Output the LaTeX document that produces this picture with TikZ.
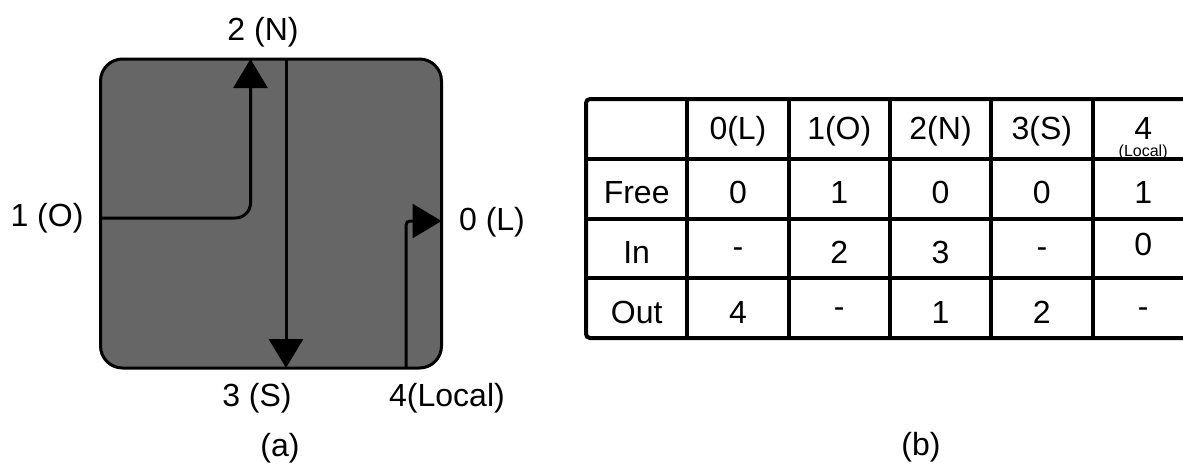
\documentclass[tikz,border=0pt]{standalone}
\usepackage{fontspec}
\setmainfont{Liberation Sans}
\usetikzlibrary{arrows.meta}

\def\colw{101.3}
\def\rowh{59.75}
\def\tabx{586}
\def\taby{99}

\tikzset{
  lbl/.style={inner sep=0pt, font=\fontsize{32}{36}\selectfont},
  cell/.style={inner sep=0pt, font=\fontsize{32}{36}\selectfont},
  flow/.style={line width=3pt, -{Triangle[width=34pt,length=29pt]}},
  grid/.style={line width=4pt}
}

\begin{document}
\begin{tikzpicture}[x=1pt,y=-1pt]
        \useasboundingbox (0,0) rectangle (1183,464);
        \clip (0,0) rectangle (1183,464);
        % router box
        \node[draw, line width=3pt, fill=black!60, rounded corners=22pt,
              minimum width=341pt, minimum height=309pt, inner sep=0pt]
              (router) at (271,213.5) {};
        % port ends on the box
        \coordinate (oin) at (100.5,218);
        \coordinate (nout) at (250.5,59);
        \coordinate (nin) at (286,59);
        \coordinate (sout) at (286,368);
        \coordinate (lin) at (406,368);
        \coordinate (lout) at (441.5,221);
        % paths through the router
        \draw[flow, rounded corners=15pt] (oin) -| (nout);
        \draw[flow] (nin) -- (sout);
        \draw[flow, rounded corners=4pt] (lin) |- (lout);
        % port labels
        \node[lbl] (pn) at (263,32) {2 (N)};
        \node[lbl] (ps) at (257,398) {3 (S)};
        \node[lbl] (plocal) at (447,398) {4(Local)};
        \node[lbl] (pl) at (492,222) {0 (L)};
        \node[lbl] (po) at (47,218) {1 (O)};
        \node[lbl] (capa) at (280,448) {(a)};
        \node[lbl] (capb) at (921,447) {(b)};
        % table grid
        \draw[grid, rounded corners=4pt] (\tabx,\taby) rectangle ({\tabx+6*\colw},{\taby+4*\rowh});
        \foreach \c in {1,...,5}
            \draw[grid] ({\tabx+\c*\colw},\taby) -- ({\tabx+\c*\colw},{\taby+4*\rowh});
        \foreach \r in {1,2,3}
            \draw[grid] (\tabx,{\taby+\r*\rowh}) -- ({\tabx+6*\colw},{\taby+\r*\rowh});
        % header row
        \foreach \lab [count=\c] in {0(L),1(O),2(N),3(S)}
            \node[cell] (h\c) at ({\tabx+(\c+0.5)*\colw},{\taby+0.5*\rowh+2}) {\lab};
        \node[cell, text depth=0pt, anchor=south] (h5) at ({\tabx+5.5*\colw},140) {4};
        \node[inner sep=0pt, text height=11pt, anchor=north, font=\fontsize{16}{18}\selectfont] (h5b) at ({\tabx+5.5*\colw},145) {(Local)};
        % body rows
        \foreach \rlab/\vals [count=\r] in {Free/{0,1,0,0,1},In/{-,2,3,-,0},Out/{4,-,1,2,-}} {
            \node[cell] (r\r) at ({\tabx+0.5*\colw},{\taby+(\r+0.5)*\rowh+4}) {\rlab};
            \foreach \v [count=\c] in \vals
                \node[cell, yshift={(\r==2)*(\c==5)*8}] (v\r\c) at ({\tabx+(\c+0.5)*\colw},{\taby+(\r+0.5)*\rowh+4}) {\v};
        }
\end{tikzpicture}
\end{document}
